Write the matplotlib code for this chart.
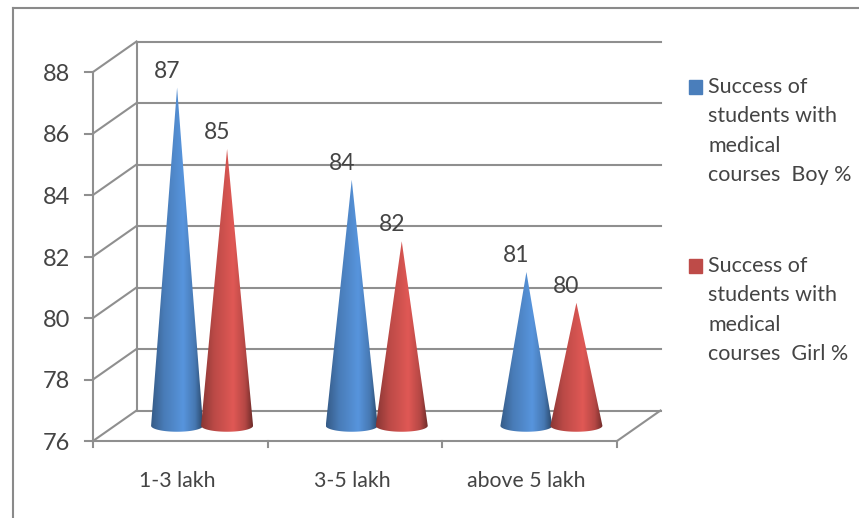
import numpy as np
import matplotlib
matplotlib.use("Agg")
import matplotlib.pyplot as plt
from matplotlib.colors import LinearSegmentedColormap, to_rgb
from matplotlib.transforms import Affine2D
from matplotlib.patches import Rectangle, Polygon

categories = ["1-3 lakh", "3-5 lakh", "above 5 lakh"]
boy_values = [87, 84, 81]
girl_values = [85, 82, 80]
series_names = ["Success of\nstudents with\nmedical\ncourses  Boy %",
                "Success of\nstudents with\nmedical\ncourses  Girl %"]
y_ticks = [76, 78, 80, 82, 84, 86, 88]

W, H = 859, 518
plt.rcParams['font.family'] = ['Lato', 'DejaVu Sans']
fig = plt.figure(figsize=(W/100, H/100), dpi=100)
L, R, T, B = 93, 617, 72, 441
ax = fig.add_axes([L/W, 1-B/H, (R-L)/W, (B-T)/H])
ax.patch.set_visible(False)
for s in ax.spines.values():
    s.set_visible(False)
ax.set_xticks([]); ax.set_yticks([])
ax.set_xlim(0, 3); ax.set_ylim(76, 88)
ax.set_autoscale_on(False)

DX, DY = 43.5, 30.5
GRID = '#8f8f8f'
LW = 1.5
TXT = '#444444'
UX = (R-L)/3
UY = (B-T)/12

def off(f):
    return ax.transData + Affine2D().translate(DX*f, DY*f)

def seg(p, q):
    """Draw a line between two display-pixel points (origin lower-left)."""
    inv = fig.transFigure.inverted()
    a, b = inv.transform(p), inv.transform(q)
    fig.add_artist(plt.Line2D([a[0], b[0]], [a[1], b[1]], color=GRID, lw=LW))

for v in y_ticks:
    ax.plot([0, 3], [v, v], color=GRID, lw=LW, transform=off(1), clip_on=False, zorder=1)
    p = ax.transData.transform((0, v))
    seg(p, p + np.array([DX, DY]))
    seg(p + np.array([-8, 0]), p)
    ax.text(-23/UX, v-2.5/UY, str(v), ha='right', va='center', fontsize=17, color=TXT)
ax.plot([0, 0], [76, 88], color=GRID, lw=LW, clip_on=False, zorder=1)
ax.plot([0, 0], [76, 88], color=GRID, lw=LW, transform=off(1), clip_on=False, zorder=1)
ax.plot([0, 3], [76, 76], color=GRID, lw=LW, clip_on=False, zorder=1)
a = ax.transData.transform((3, 76))
seg(a, a + np.array([DX, DY]))
for x in range(4):
    ax.plot([x, x], [76, 75.8], color=GRID, lw=LW, clip_on=False, zorder=1)
for i, c in enumerate(categories):
    ax.text(i+0.5-3/UX, 74.70, c, ha='center', va='center', fontsize=15.3, color=TXT)

BLUE = '#4a7ebb'
RED = '#be4b48'

def cone_cmap(base):
    b = np.array(to_rgb(base))
    light = np.clip(b*1.18, 0, 1)
    return LinearSegmentedColormap.from_list('c', [
        (0.0, tuple(b*0.72)), (0.25, tuple(b*0.98)), (0.62, tuple(light)),
        (0.85, tuple(b*0.95)), (1.0, tuple(b*0.58))])

def cone(xc, v, color):
    r = 26/UX
    h = 6/UY
    ts = np.linspace(np.pi, 2*np.pi, 60)
    pts = [(xc, v)] + [(xc+r*np.cos(t), 76+h*np.sin(t)) for t in ts]
    tr = off(0.5)
    poly = Polygon(pts, closed=True, transform=tr, facecolor='none', edgecolor='none')
    ax.add_patch(poly)
    grad = np.linspace(0, 1, 256).reshape(1, -1)
    im = ax.imshow(grad, cmap=cone_cmap(color), extent=(xc-r, xc+r, 76-h, v),
                   aspect='auto', transform=tr, zorder=3, clip_on=True)
    im.set_clip_path(poly)
    ax.text(xc-10/UX, v+16.5/UY, str(v), ha='center', va='center', fontsize=16.5,
            color=TXT, transform=tr, zorder=4)

shift = 25/UX
for i in range(3):
    cone(i+0.5-shift, boy_values[i], BLUE)
    cone(i+0.5+shift, girl_values[i], RED)
ax.set_xlim(0, 3); ax.set_ylim(76, 88)

for (y, col, txt) in [(87, BLUE, series_names[0]), (266, RED, series_names[1])]:
    fig.add_artist(Rectangle((689/W, 1-(y+7)/H), 13/W, 14/H, transform=fig.transFigure, color=col))
    fig.text(708/W, 1-(y-10)/H, txt, ha='left', va='top', fontsize=15.5, linespacing=1.58, color=TXT)

for (x0, y0, x1, y1) in [(13, 8, 859, 8), (13, 8, 13, 518)]:
    fig.add_artist(plt.Line2D([x0/W, x1/W], [1-y0/H, 1-y1/H], color='#8a8a8a', lw=1.5))

fig.savefig('out.png', dpi=100)
